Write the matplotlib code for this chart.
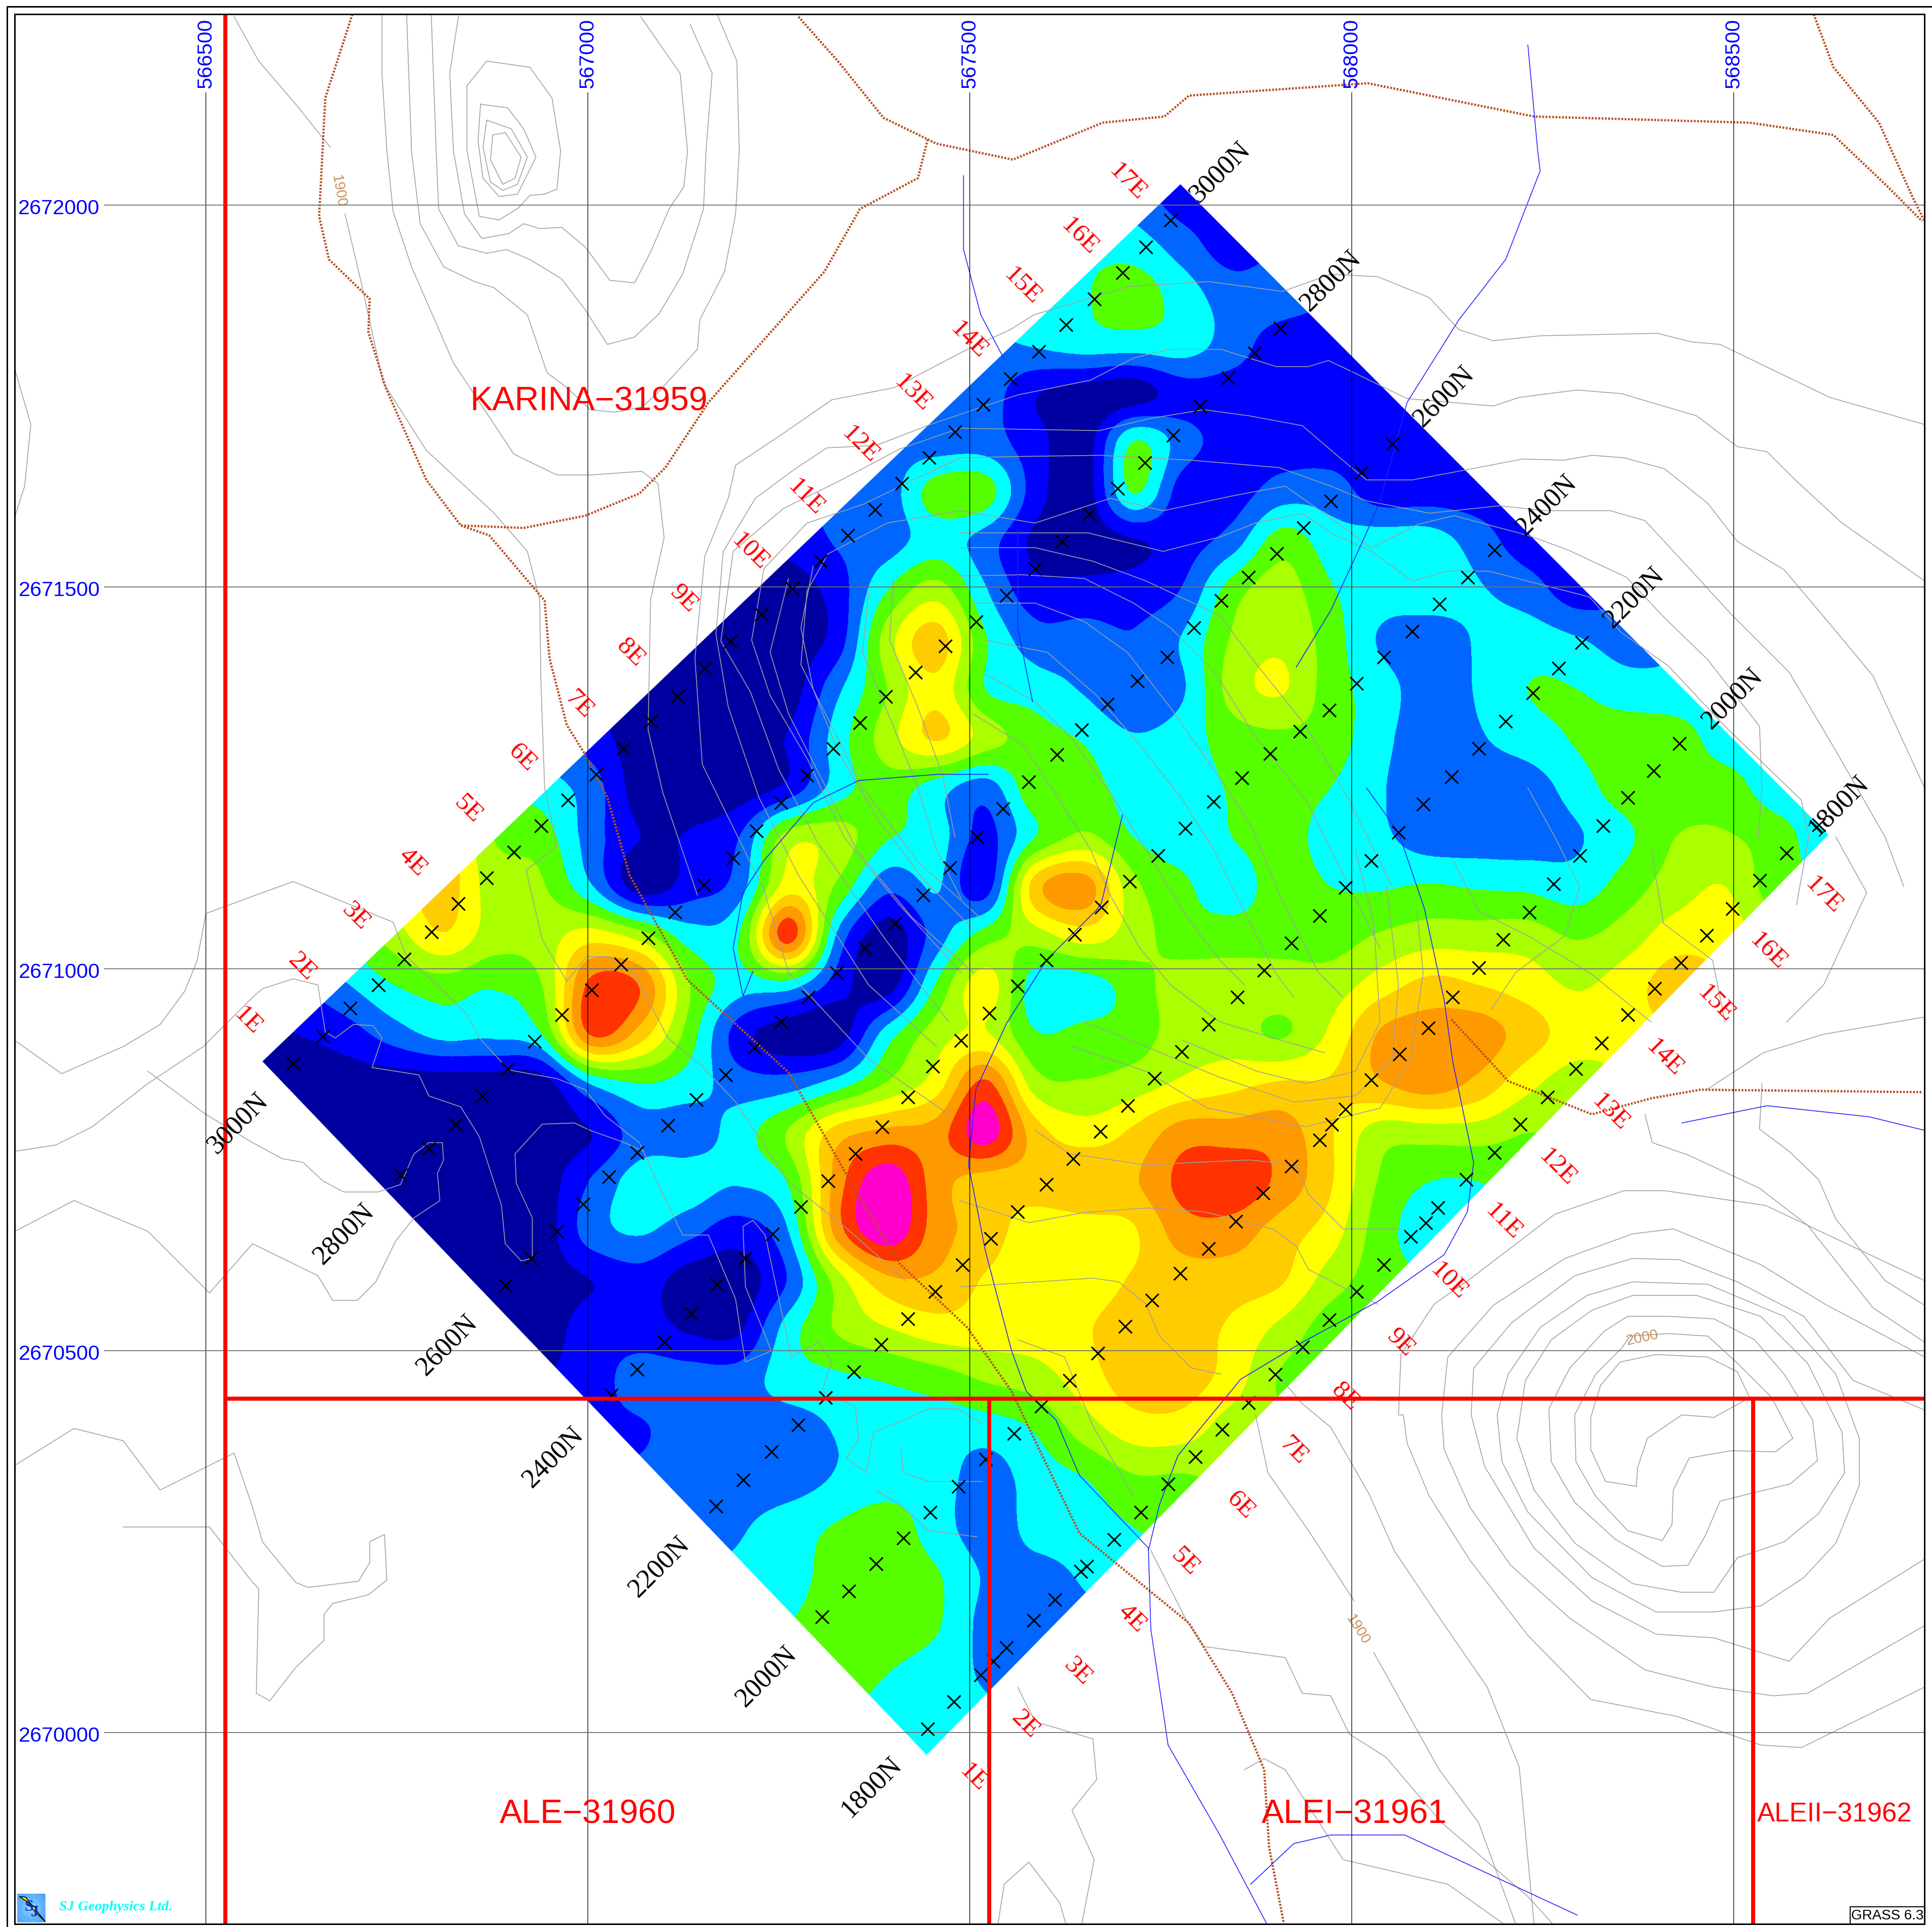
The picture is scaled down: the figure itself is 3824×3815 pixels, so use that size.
import numpy as np
import matplotlib
matplotlib.use("Agg")
import matplotlib.pyplot as plt
from matplotlib.colors import ListedColormap, BoundaryNorm
from matplotlib.patches import Polygon, Rectangle
from matplotlib.lines import Line2D

W, H = 3824, 3816
SANS = ["Liberation Sans", "DejaVu Sans"]
SERIF = ["Liberation Serif", "DejaVu Serif"]

# ---------------- map helpers: sheet units (1 unit = 1/0.62 m) to UTM metres
def E(v): return 566500 + (np.asarray(v, float) - 167) / 0.62
def N(v): return 2672000 - (np.asarray(v, float) - 167) / 0.62

eastings = [566500, 567000, 567500, 568000, 568500]
northings = [2672000, 2671500, 2671000, 2670500, 2670000]

# ---------------- gridded survey values (class level), sampled every 40 sheet units
class_colors = ["#0000A0", "#0000FF", "#0066FF", "#00FFFF", "#55FF00", "#AAFF00",
                "#FFFF00", "#FFCC00", "#FF9900", "#FF3300", "#FF00CC"]
field_cols_start = 200
field_rows = [
 (160, 960, [1]),
 (200, 920, [3, 2, 1]),
 (240, 880, [3.4, 4, 3, 2, 2]),
 (280, 840, [2.6, 3, 3, 3, 2, 1, 1]),
 (320, 800, [2, 0.6, 0, 0, 1, 1, 1, 1, 1]),
 (360, 760, [2, 2, 0.9, 0, 3.55, 2, 1, 1, 1, 1, 1]),
 (400, 720, [2, 4, 4, 1, 0, 3.55, 1, 1, 2, 2, 1, 1, 1]),
 (440, 680, [1.6, 2, 3, 2, 0.3, 0, 0.4, 1, 2, 4, 3, 3, 3, 2, 1]),
 (480, 640, [0, 1, 3.5, 5, 2.6, 0.9, 0.8, 1, 1.6, 4, 5, 3.6, 3, 3, 2.6, 2, 1]),
 (520, 600, [0, 0, 1, 5, 7, 3.6, 2, 2, 1.6, 2.6, 4.6, 5.3, 4, 2.4, 2, 2.6, 3, 2.6, 2]),
 (560, 560, [0, 0, 0, 2.3, 4.5, 6.2, 3.5, 3, 2.4, 1.6, 2.4, 4.9, 5.6, 4, 3, 2, 2.6, 3.5, 3.5, 3, 2.8]),
 (600, 520, [0, 0, 0, 0.6, 3, 5, 6.6, 5, 4, 3.4, 2.6, 3, 4, 4.3, 4, 2.8, 2, 2.4, 3, 3.6, 4, 4, 3]),
 (640, 480, [2, 0, 0, 0, 0.8, 3, 4, 3, 2, 4.2, 4, 3, 3, 3.6, 4, 3.5, 2.6, 2, 2, 2, 3, 4, 4, 4, 3]),
 (680, 440, [4, 2, 0.5, 0.6, 1.5, 5, 5, 3.6, 3, 1.2, 3.5, 4.7, 3.5, 3, 3.5, 4, 3, 2.7, 2, 2, 2, 2.4, 3.3, 4.5, 4.6, 4, 3]),
 (720, 360, [7, 5, 4.6, 2.6, 0, 1, 2, 6, 4.3, 1.8, 2.6, 1, 7, 8, 4.8, 3.7, 3, 4, 3.5, 3.4, 3.6, 3.4, 3.3, 3, 4, 5, 5.5, 4]),
 (760, 320, [5, 6.4, 5, 5, 6, 5, 3, 3.5, 9, 2.3, 0, 2, 4, 5, 6, 5, 4, 4, 4, 4, 4.6, 5, 5, 5, 4.4, 5, 6, 6]),
 (800, 280, [2.4, 3.5, 4, 3.6, 4.5, 8.8, 8.4, 4.5, 3, 3, 1, 0, 3.6, 6, 3, 3, 4, 5, 5, 5, 5, 6, 6.8, 6.5, 6, 5.4, 6, 7]),
 (840, 240, [0.5, 1, 2, 2.8, 2.7, 3.5, 8.6, 7, 4, 1, 0, 0, 3, 5, 5.6, 3.6, 3.8, 4, 5, 5, 4.4, 5.7, 7.6, 8, 8, 7, 6, 6]),
 (880, 240, [0, 0, 0, 0, 0, 0, 2.6, 3.5, 3, 2, 2, 3, 4.6, 6, 8.7, 5, 4.6, 5, 5.7, 6.2, 6.6, 6.6, 7.4, 8, 7.2, 5.8, 5]),
 (920, 280, [0, 0, 0, 0, 0, 0.5, 2, 2, 3, 4.6, 7, 7.8, 8, 10, 7, 6, 6.7, 8, 8, 8, 6.6, 5, 5, 5, 4.5]),
 (960, 320, [0, 0, 0, 0, 1.6, 3, 3, 2.6, 3.6, 8, 10.2, 8, 7, 7, 7.4, 7.4, 8.8, 9.2, 8.2, 6.6, 4.4, 3.5, 3.5]),
 (1000, 360, [0, 0, 0, 2, 2.6, 1.8, 1, 2.5, 8, 10.2, 8, 7, 6, 6, 6.4, 8, 8, 7, 6, 4, 3]),
 (1040, 400, [0, 0, 0.5, 1, 0, 0, 1.6, 5, 7.2, 7.3, 6.4, 6, 6, 6.6, 7, 7, 6.6, 5, 4]),
 (1080, 440, [0, 1, 1, 0.4, 0.4, 3, 4.6, 5.4, 6, 6, 6, 6.4, 7, 7, 6.3, 5.2, 4]),
 (1120, 480, [1, 2, 2, 2, 3, 3.3, 3.6, 4, 4.6, 5, 6, 7, 7, 6, 4.4]),
 (1160, 520, [1.4, 2, 2, 2, 2.6, 3, 3, 3, 3.6, 5, 6, 6, 5]),
 (1200, 560, [2, 2, 2, 2.6, 3, 3, 2, 3, 3.5, 4.4, 4.4]),
 (1240, 600, [2.4, 3, 3.6, 4, 3, 2, 2.8, 3, 3.5]),
 (1280, 640, [3, 4, 4, 3.6, 2.4, 2.2, 2.6]),
 (1320, 680, [4, 4, 3.6, 2.2, 2]),
 (1360, 720, [3.5, 3, 2.4]),
 (1400, 760, [3]),
]
field_outline_x = [958, 213, 752, 1484]
field_outline_y = [150, 862, 1425, 678]

# ---------------- survey stations along the lines
st_3000N = [(238,864),(262,842),(284,819),(307,800),(328,779),(350,757),(372,734),(395,713),(417,692),(439,671),(461,650),(484,629),(506,608),(528,586),(550,566),(572,543),(593,521),(618,499),(643,478),(666,456),(688,435),(710,414),(732,393),(754,372),(775,351),(798,329),(820,308),(843,286),(865,264),(888,243),(911,222),(930,201),(950,179)]
st_2800N = [(325,954),(348,933),(370,913),(391,890),(412,868),(434,846),(456,824),(480,804),(504,783),(526,762),(548,741),(571,719),(595,697),(614,675),(634,652),(655,630),(676,608),(698,587),(719,566),(743,546),(767,525),(792,505),(817,484),(840,462),(862,440),(884,418),(907,397),(929,376),(952,354),(974,330),(997,307),(1018,287),(1039,267)]
st_2600N = [(410,1044),(431,1022),(452,1000),(473,978),(494,956),(517,936),(542,914),(565,893),(589,873),(612,851),(634,830),(656,810),(679,790),(702,770),(726,750),(749,727),(771,705),(793,680),(814,657),(835,635),(858,613),(878,593),(899,572),(923,553),(947,534),(969,510),(991,488),(1013,469),(1036,450),(1058,429),(1080,407),(1105,384),(1130,361)]
st_2400N = [(496,1133),(517,1112),(539,1090),(561,1067),(582,1043),(605,1022),(627,1002),(650,980),(672,959),(694,937),(716,915),(737,891),(757,866),(780,845),(803,823),(826,801),(849,780),(872,759),(894,737),(917,716),(940,695),(962,673),(985,651),(1008,632),(1031,612),(1055,594),(1079,577),(1101,555),(1123,534),(1146,513),(1168,491),(1191,469),(1213,447)]
st_2200N = [(581,1223),(603,1202),(626,1179),(648,1157),(670,1135),(693,1114),(715,1092),(737,1071),(759,1049),(781,1027),(804,1006),(826,984),(849,962),(871,941),(893,919),(915,898),(937,876),(959,854),(981,832),(1004,810),(1026,788),(1048,766),(1071,744),(1092,721),(1113,699),(1135,676),(1155,653),(1178,631),(1200,608),(1222,586),(1244,563),(1265,543),(1284,522)]
st_2000N = [(667,1313),(689,1292),(711,1270),(733,1249),(755,1228),(778,1207),(800,1185),(823,1164),(845,1142),(868,1121),(891,1099),(913,1077),(935,1056),(958,1034),(981,1014),(1003,992),(1025,969),(1048,947),(1071,926),(1081,913),(1092,901),(1113,877),(1136,856),(1159,835),(1179,810),(1200,786),(1220,763),(1241,741),(1261,718),(1282,695),(1301,671),(1321,648),(1342,626),(1363,604)]
st_1800N = [(753,1404),(774,1382),(796,1360),(806,1349),(817,1338),(839,1316),(856,1299),(877,1276),(882,1272),(904,1250),(926,1228),(948,1205),(970,1183),(992,1161),(1013,1139),(1035,1116),(1057,1094),(1079,1072),(1101,1049),(1123,1027),(1145,1004),(1157,993),(1167,981),(1190,958),(1213,936),(1234,913),(1256,891),(1279,868),(1300,847),(1321,824),(1343,803),(1364,782),(1385,760),(1406,738),(1428,715),(1450,693),(1476,670)]

# ---------------- line labels
lines_E = ["1E","2E","3E","4E","5E","6E","7E","8E","9E","10E","11E","12E","13E","14E","15E","16E","17E"]
label_E_upper = [(201,829),(245,785),(289,744),(335,700),(380,657),(424,615),(470,572),(512,530),(555,486),(609,448),(654,404),(698,361),(741,319),(786,276),(830,232),(876,192),(915,148)]
label_E_lower = [(790,1443),(832,1400),(875,1357),(919,1314),(962,1268),(1007,1222),(1050,1178),(1092,1134),(1137,1090),(1176,1040),(1220,992),(1264,948),(1307,903),(1351,859),(1393,815),(1435,772),(1480,727)]
lines_N = ["3000N","2800N","2600N","2400N","2200N","2000N","1800N"]
label_N_upper = [(990,140),(1080,228),(1172,322),(1255,410),(1326,485),(1406,567),(1492,654)]
label_N_lower = [(193,912),(279,1002),(363,1092),(449,1183),(535,1272),(622,1361),(707,1451)]

# ---------------- claims
claim_v1 = [(183,12),(183,1562)]
claim_h = [(183,1136),(1562,1136)]
claim_v2 = [(803,1136),(803,1562)]
claim_v3 = [(1423,1136),(1423,1562)]
claim_names = [("KARINA\u221231959",478,326,47.8),("ALE\u221231960",477,1473,47.8),("ALEI\u221231961",1099,1473,47.8),("ALEII\u221231962",1489,1473,38)]

# ---------------- roads
roads = [
 [(286,12),(264,80),(259,176),(267,211),(300,243),(299,270),(313,315),(346,390),(374,427),(425,429),(475,419),(519,401),(540,380),(575,327),(669,221),(698,170),(745,145),(753,113)],
 [(648,14),(680,50),(717,96),(760,117),(822,130),(895,100),(945,95),(965,78),(1110,68),(1245,95),(1420,100),(1488,110),(1530,150),(1560,180)],
 [(1472,12),(1488,55),(1525,100),(1552,160),(1562,180)],
 [(374,427),(397,435),(442,488),(446,535),(460,589),(475,613),(493,648),(511,711),(526,738),(558,796),(640,871),(691,961),(730,1026),(785,1078),(821,1130),(876,1245),(965,1318),(1000,1375),(1026,1437),(1030,1500),(1042,1562)],
 [(1178,828),(1224,878),(1292,905),(1340,892),(1380,885),(1560,887)],
]
# ---------------- streams
streams = [
 [(782,143),(782,203),(796,256),(815,292)],
 [(826,430),(826,510),(838,570)],
 [(1240,37),(1248,123),(1250,139),(1222,211),(1184,260),(1142,327),(1120,407),(1109,433),(1080,496),(1052,542)],
 [(802,629),(761,629),(697,634),(660,652),(620,699),(603,725),(595,770),(603,809),(611,789)],
 [(911,662),(894,733),(890,739),(850,779),(817,831),(792,885),(786,946),(800,1017),(821,1097),(833,1130),(857,1153),(876,1198),(932,1257),(934,1323),(948,1417),(990,1490),(1028,1562)],
 [(932,1259),(941,1222),(956,1182),(1007,1120),(1057,1090),(1118,1057),(1172,1019),(1191,984),(1196,944),(1179,862),(1172,812),(1156,738),(1135,676),(1109,640)],
 [(1365,912),(1434,898),(1517,907),(1562,918)],
 [(1015,1530),(1050,1497),(1080,1490),(1140,1490),(1280,1555)],
]
# ---------------- topographic contours
topo = [
 [(390,85),(388,115),(392,145),(405,160),(420,158),(435,128),(425,105),(412,88),(390,85)],
 [(395,98),(392,120),(398,148),(408,155),(420,150),(428,128),(415,105),(395,98)],
 [(400,110),(398,130),(408,150),(418,145),(423,128),(410,108),(400,110)],
 [(310,12),(310,60),(314,123),(319,172),(334,217),(368,295),(417,369),(452,386),(479,386),(521,383),(534,393),(539,437),(528,487),(526,593),(538,644),(566,727)],
 [(330,12),(334,123),(341,182),(360,217),(385,229),(401,234),(428,256),(444,303),(460,315),(479,333),(499,335),(521,331),(534,319),(566,284),(568,260),(588,221),(597,174),(600,123),(598,50),(582,12)],
 [(350,12),(354,123),(356,170),(372,200),(395,206),(411,203),(430,211),(456,227),(475,252),(493,280),(515,274),(535,255),(554,223),(571,170),(573,123),(578,60),(560,20)],
 [(372,14),(365,60),(368,123),(377,174),(391,194),(413,190),(425,182),(438,186),(456,185),(475,201),(495,228),(515,230),(528,205),(543,170),(555,152),(558,123),(552,60),(520,14)],
 [(379,70),(379,123),(389,176),(405,179),(421,169),(430,159),(442,158),(452,154),(455,123),(448,80),(430,55),(395,50),(379,70)],
 [(190,14),(210,50),(240,85),(268,120)],
 [(280,174),(293,229),(311,311),(346,366),(401,417),(428,448),(438,487),(439,554),(442,640),(452,687),(427,707),(440,763),(460,797),(476,777),(495,777),(515,791),(542,843),(570,866),(597,895),(640,960),(690,1000),(735,1040)],
 [(12,845),(50,872),(100,850),(130,832),(150,805),(160,780),(167,742),(205,728),(238,716),(319,749),(330,777),(360,805),(379,824),(389,843),(413,869),(452,876),(475,885),(491,906),(519,928),(538,970),(554,1003),(575,1003),(597,1055),(602,1088),(605,1106),(626,1097),(605,1045),(603,996),(611,991),(621,1003),(636,1073),(642,1102),(664,1090),(675,1106),(667,1130),(694,1142),(697,1168),(687,1184),(703,1196),(709,1163),(734,1153),(754,1144),(777,1144),(797,1156)],
 [(12,935),(45,930),(75,915),(120,880),(165,850),(205,810),(213,803),(238,795),(258,800),(264,838),(272,843),(287,832),(303,833),(310,843),(302,867),(340,873),(348,890),(374,899),(389,923),(407,979),(410,1010),(423,1024),(432,1022),(432,989),(419,961),(418,937),(440,913),(466,912),(479,918),(507,928),(522,935)],
 [(12,1000),(60,975),(120,1000),(170,1050),(205,1010),(258,1036),(270,1056),(290,1056),(305,1041),(321,1008),(336,989),(357,975),(355,953),(360,942),(359,928),(348,928),(336,937),(325,962),(307,968),(279,968),(262,959),(246,944),(229,941),(205,928),(167,905),(120,870)],
 [(12,1190),(60,1160),(100,1170),(130,1210),(190,1180),(205,1224),(213,1252),(240,1285),(250,1289),(291,1284),(300,1269),(300,1252),(312,1246),(314,1283),(299,1295),(270,1302),(263,1311),(263,1332),(240,1354),(219,1381),(208,1375),(210,1290),(205,1285),(170,1240),(100,1240)],
 [(12,300),(25,345),(20,395),(12,420)],
 [(1328,1207),(1303,1203),(1291,1177),(1291,1151),(1299,1125),(1315,1106),(1344,1100),(1386,1102),(1410,1114),(1420,1135),(1391,1151),(1365,1149),(1337,1168),(1329,1192),(1328,1207)],
 [(1455,1168),(1441,1179),(1405,1178),(1371,1184),(1358,1210),(1357,1238),(1349,1251),(1321,1243),(1295,1215),(1279,1187),(1278,1149),(1295,1116),(1316,1095),(1323,1085),(1354,1083),(1386,1085),(1410,1107),(1438,1135),(1455,1168)],
 [(1475,1186),(1453,1205),(1420,1213),(1396,1219),(1384,1247),(1370,1271),(1349,1272),(1311,1250),(1278,1220),(1259,1187),(1257,1144),(1274,1111),(1302,1081),(1321,1069),(1354,1069),(1391,1071),(1424,1088),(1448,1116),(1471,1153),(1475,1186)],
 [(1497,1196),(1476,1229),(1448,1252),(1410,1265),(1391,1293),(1365,1293),(1325,1286),(1278,1253),(1245,1210),(1231,1168),(1238,1121),(1259,1088),(1292,1064),(1325,1052),(1377,1052),(1429,1069),(1467,1107),(1495,1163),(1497,1196)],
 [(1509,1206),(1490,1253),(1464,1281),(1429,1304),(1391,1309),(1344,1309),(1292,1281),(1240,1228),(1219,1187),(1215,1149),(1224,1116),(1250,1078),(1288,1052),(1325,1041),(1386,1043),(1448,1069),(1490,1116),(1509,1168),(1509,1206)],
 [(1562,1145),(1504,1121),(1464,1069),(1410,1041),(1363,1023),(1325,1022),(1278,1036),(1227,1074),(1196,1111),(1194,1149),(1205,1191),(1245,1257),(1292,1300),(1344,1327),(1391,1330),(1452,1349),(1485,1314),(1562,1266)],
 [(1562,1102),(1481,1059),(1429,1027),(1358,998),(1325,1002),(1270,1022),(1212,1060),(1175,1102),(1170,1149),(1172,1177),(1193,1224),(1226,1271),(1274,1314),(1335,1356),(1391,1370),(1439,1377),(1467,1375),(1562,1320)],
 [(1562,1040),(1433,979),(1351,967),(1318,967),(1262,986),(1194,1038),(1164,1059),(1137,1100),(1135,1149),(1139,1149),(1142,1172),(1160,1215),(1193,1267),(1240,1328),(1291,1380),(1362,1394),(1429,1417),(1462,1419),(1562,1370)],
 [(1040,1120),(1057,1140),(1080,1159),(1111,1213),(1132,1260),(1165,1309),(1207,1370),(1233,1435),(1245,1562)],
 [(934,1259),(963,1316),(977,1337),(1043,1346),(1057,1375),(1080,1377),(1095,1408),(1125,1427),(1170,1480),(1240,1540),(1260,1562)],
 [(1019,1149),(1029,1196),(1062,1243),(1099,1300)],
 [(1115,1342),(1168,1437),(1200,1480),(1230,1562)],
 [(1041,237),(1080,223),(1118,225),(1160,242),(1184,268),(1212,277),(1250,273),(1345,271),(1373,278),(1396,280),(1485,323),(1562,345)],
 [(1142,324),(1212,330),(1233,323),(1280,317),(1316,320),(1377,338),(1410,363),(1434,367),(1457,390),(1495,425),(1562,472)],
 [(1189,382),(1236,373),(1269,374),(1292,370),(1318,372),(1351,381),(1386,409),(1410,440),(1448,463),(1491,514),(1520,549),(1562,640)],
 [(1217,411),(1255,415),(1307,415),(1335,423),(1373,464),(1405,499),(1452,546),(1490,610),(1530,680),(1545,720)],
 [(1240,435),(1273,447),(1320,469),(1349,500),(1386,536),(1428,590),(1430,640),(1427,680)],
 [(1290,485),(1316,514),(1354,541),(1400,590),(1462,650),(1468,680),(1458,735)],
 [(1385,885),(1431,855),(1480,840),(1562,826)],
 [(1335,905),(1341,928),(1370,938),(1428,965),(1467,995),(1520,1062),(1562,1090)],
 [(1430,880),(1428,917),(1452,935),(1476,958),(1490,990),(1530,1040),(1562,1060)],
 [(1490,680),(1515,725),(1480,800),(1450,830)],
 [(820,268),(785,284),(726,315),(675,325),(636,352),(597,378),(591,405),(572,452),(564,535),(570,621),(593,668),(620,723),(640,790),(705,860),(770,905)],
 [(820,268),(839,256),(916,233),(981,229),(1041,237)],
 [(826,321),(755,345),(711,362),(671,364),(644,382),(613,405),(587,448),(581,515),(591,574),(616,648),(648,711),(705,800),(760,850)],
 [(826,321),(885,309),(920,291),(949,284),(991,284),(1036,298),(1062,298),(1078,293),(1099,303),(1142,324)],
 [(779,348),(730,365),(679,392),(636,413),(595,448),(585,521),(609,562),(632,625),(664,685),(720,765),(770,830)],
 [(779,348),(892,350),(934,340),(977,333),(1014,338),(1057,346),(1085,370),(1109,390),(1146,390),(1189,382)],
 [(779,372),(826,371),(892,370),(967,374),(1038,380),(1080,395),(1109,407),(1160,417),(1217,411)],
 [(779,372),(700,410),(655,425),(620,462),(610,520),(625,565),(656,618),(685,680),(730,735),(780,790)],
 [(640,470),(625,530),(640,580),(668,635),(695,690),(740,745),(790,790)],
 [(660,460),(650,510),(660,560),(680,610),(712,665),(750,715),(790,755)],
 [(779,415),(840,425),(901,405),(944,415),(1000,403),(1043,395),(1080,421),(1113,445),(1151,426),(1180,419),(1240,435)],
 [(779,415),(720,425),(672,450),(655,480),(650,540),(675,590),(700,640),(745,700),(795,745)],
 [(705,480),(700,530),(725,590),(745,640),(760,690),(780,730)],
 [(725,470),(722,520),(745,575),(765,630),(775,680)],
 [(779,433),(835,433),(883,433),(944,448),(991,436),(1019,425),(1057,417),(1080,433),(1113,448),(1146,472),(1175,464),(1208,464),(1290,485)],
 [(779,445),(840,445),(887,456),(930,472),(960,486),(990,500),(1020,540),(1060,590),(1095,650),(1130,720)],
 [(779,468),(830,467),(880,470),(920,490),(950,510),(985,545),(1020,600),(1060,650),(1090,710),(1120,770)],
 [(790,490),(840,490),(880,505),(915,530),(950,575),(985,625),(1015,670),(1040,730),(1070,790),(1090,810)],
 [(800,520),(850,530),(890,565),(925,605),(960,650),(985,690),(1010,740),(1035,790),(1050,810)],
 [(800,548),(840,570),(870,600),(905,650),(930,690),(960,740),(990,780),(1010,800)],
 [(790,580),(830,605),(860,650),(885,690),(900,725),(925,770),(950,800),(990,830),(1040,845),(1075,855)],
 [(1100,690),(1115,750),(1120,830),(1100,870),(1060,880),(1020,870),(960,845)],
 [(1125,720),(1135,800),(1130,860),(1100,890),(1050,895),(990,875),(930,850),(880,830)],
 [(1150,740),(1155,790),(1145,860),(1120,900),(1060,915),(980,900),(930,870),(870,850)],
 [(840,918),(868,937),(930,946),(1014,942),(1052,946),(1062,970),(1090,998),(1137,998)],
 [(779,975),(835,993),(878,985),(930,981),(977,984),(1033,998),(1052,1012),(1062,1031),(1099,1050),(1118,1059)],
 [(779,1045),(887,1038),(908,1041),(930,1059),(941,1085),(967,1111),(991,1116)],
 [(826,1088),(864,1102),(887,1158),(920,1215)],
 [(711,1210),(730,1222),(754,1243),(793,1248)],
 [(731,1175),(733,1196),(754,1203),(797,1203)],
 [(826,1370),(840,1398),(887,1412),(890,1445),(870,1470),(888,1510),(878,1562)],
 [(1010,1437),(1026,1428),(1043,1437),(1090,1510),(1175,1530),(1220,1562)],
 [(810,1562),(815,1530),(835,1512),(860,1545),(865,1562)],
 [(1240,640),(1262,680),(1282,720),(1270,760),(1230,790),(1210,820)],
 [(1340,690),(1350,750),(1390,780),(1400,830)],
 [(1180,700),(1200,740),(1240,760),(1290,790),(1340,830)],
]
contour_labels = [("1900",275,155,-80),("1900",1102,1323,-58),("2000",1333,1086,12)]

# ---------------- build the figure
fig = plt.figure(figsize=(W/100, H/100), dpi=100, facecolor="white")
x0, x1, ytop, ybot = 28.5, 3809, 29, 3810
ax = fig.add_axes([x0/W, 1-ybot/H, (x1-x0)/W, (ybot-ytop)/H])
ax.set_facecolor("white")
px = 0.72

# grid of values
col_x = np.arange(field_cols_start, 1521, 40)
row_y = np.arange(120, 1441, 40)
Z = np.full((len(row_y), len(col_x)), np.nan)
for y, xs, vals in field_rows:
    r = int(round((y-120)/40)); c = int(round((xs-field_cols_start)/40))
    Z[r, c:c+len(vals)] = vals
# cells outside the surveyed block are clipped away below; they only carry the nearest edge value
while np.isnan(Z).any():
    P = np.pad(Z, 1, constant_values=np.nan)
    stack = np.stack([P[:-2,1:-1], P[2:,1:-1], P[1:-1,:-2], P[1:-1,2:]])
    cnt = (~np.isnan(stack)).sum(0)
    m = np.nansum(stack, 0) / np.where(cnt == 0, 1, cnt)
    Z = np.where(np.isnan(Z) & (cnt > 0), m, Z)

cmap = ListedColormap(class_colors)
norm = BoundaryNorm(np.arange(-0.5, 11.5, 1), cmap.N, clip=True)
dx = 20
ext = [E(col_x[0]-dx), E(col_x[-1]+dx), N(row_y[-1]+dx), N(row_y[0]-dx)]
im = ax.imshow(Z, extent=ext, origin="upper", cmap=cmap, norm=norm, aspect="auto",
               interpolation="catrom", interpolation_stage="data", zorder=1)
clip = Polygon(np.column_stack([E(field_outline_x), N(field_outline_y)]), closed=True,
               transform=ax.transData, fc="none", ec="none")
ax.add_patch(clip)
im.set_clip_path(clip)

def trace(pts, **kw):
    a = np.array(pts, float)
    ax.plot(E(a[:,0]), N(a[:,1]), **kw)

for t in topo:
    trace(t, color="#A0A0A0", lw=1.6*px, zorder=2, solid_joinstyle="round")
for t, xv, yv, rot in contour_labels:
    ax.text(E(xv), N(yv), t, color="#C8905A", fontsize=21, rotation=rot, family=SANS,
            ha="center", va="center", rotation_mode="anchor", zorder=3)
for r in roads:
    trace(r, color="#B85023", lw=4.5*px, ls=(0, (0.8, 0.65)), zorder=4, dash_capstyle="butt")
for s in streams:
    trace(s, color="#2020FF", lw=1.6*px, zorder=4)

# grid lines
for e in eastings:
    ax.plot([e, e], [N(1562), N(75.5)], color="black", lw=1.3*px, zorder=5)
    ax.text(e, N(43.5), str(e), color="#0000FF", fontsize=29.8, family=SANS, rotation=90,
            ha="center", va="center", zorder=7)
for n in northings:
    ax.plot([E(85), E(1562)], [n, n], color="#707070", lw=1.8*px, zorder=5)
    ax.text(E(48), n-3.5, str(n), color="#0000FF", fontsize=29.8, family=SANS,
            ha="center", va="center", zorder=7)

# stations
for st in [st_3000N, st_2800N, st_2600N, st_2400N, st_2200N, st_2000N, st_1800N]:
    a = np.array(st, float)
    ax.plot(E(a[:,0]), N(a[:,1]), ls="none", marker="x", color="black", ms=19, mew=2.2, zorder=6)

# line labels
for name, (xa, ya), (xb, yb) in zip(lines_E, label_E_upper, label_E_lower):
    for xv, yv in ((xa, ya), (xb, yb)):
        ax.text(E(xv), N(yv), name, color="#FF0000", fontsize=37, rotation=-45, family=SERIF,
                ha="center", va="center", rotation_mode="anchor", zorder=7)
for name, (xa, ya), (xb, yb) in zip(lines_N, label_N_upper, label_N_lower):
    for xv, yv in ((xa, ya), (xb, yb)):
        ax.text(E(xv), N(yv), name, color="black", fontsize=39, rotation=45, family=SERIF,
                ha="center", va="center", rotation_mode="anchor", zorder=7)

# claims
for c in (claim_v1, claim_h, claim_v2, claim_v3):
    trace(c, color="#FF0000", lw=8*px, zorder=6.5, solid_capstyle="butt")
for t, xv, yv, fs in claim_names:
    ax.text(E(xv), N(yv), t, color="#FF0000", fontsize=fs, family=SANS, ha="center", va="center", zorder=7)

ax.set_xlim(E(x0/2.4388), E(x1/2.4388))
ax.set_ylim(N(ybot/2.4388), N(ytop/2.4388))
ax.set_xticks([]); ax.set_yticks([])
for sp in ax.spines.values():
    sp.set_linewidth(3*px); sp.set_color("black"); sp.set_zorder(10)

# outer frame
fig.add_artist(Line2D([13.5/W, 13.5/W, 1], [0, 1-13.5/H, 1-13.5/H], color="black", lw=3*px))

# GRASS tag
fig.add_artist(Rectangle((3662/W, 1-3810/H), 147/W, 34/H, transform=fig.transFigure, fc="white",
                         ec="black", lw=2*px, zorder=11))
fig.text(3736/W, 1-3793/H, "GRASS 6.3", fontsize=20, family=SANS, color="black", ha="center", va="center",
         zorder=12)

# logo and firm name
lax = fig.add_axes([34/W, 1-3807/H, 56/W, 57/H])
yy, xx = np.mgrid[-1:1:60j, -1:1:60j]
lax.imshow(np.hypot(xx, yy), cmap=ListedColormap(["#8AD4FF", "#70BEFF", "#5FB0FF", "#55A5F5"]), vmin=0, vmax=1.4,
           extent=[0, 1, 0, 1], aspect="auto", interpolation="bilinear")
lax.add_patch(Polygon([(0.08,0.9),(0.3,0.88),(0.55,0.55),(0.5,0.5),(1.0,0.02),(0.62,0.48),(0.68,0.5)],
                      closed=True, fc="#FFF000", ec="black", lw=1.2))
lax.text(0.42, 0.55, "S", color="#0A2FC0", fontsize=23, fontweight="bold", family=SERIF, ha="center", va="center")
lax.text(0.62, 0.36, "J", color="#0A2FC0", fontsize=23, fontweight="bold", family=SERIF, ha="center", va="center")
lax.set_xlim(0, 1); lax.set_ylim(0, 1); lax.axis("off")
fig.text(117/W, 1-3776/H, "SJ Geophysics Ltd.", color="#00FFFF", fontsize=20.5, family=SERIF,
         fontweight="bold", fontstyle="italic", ha="left", va="center", zorder=12)

fig.savefig("out.png", dpi=100, facecolor="white")
